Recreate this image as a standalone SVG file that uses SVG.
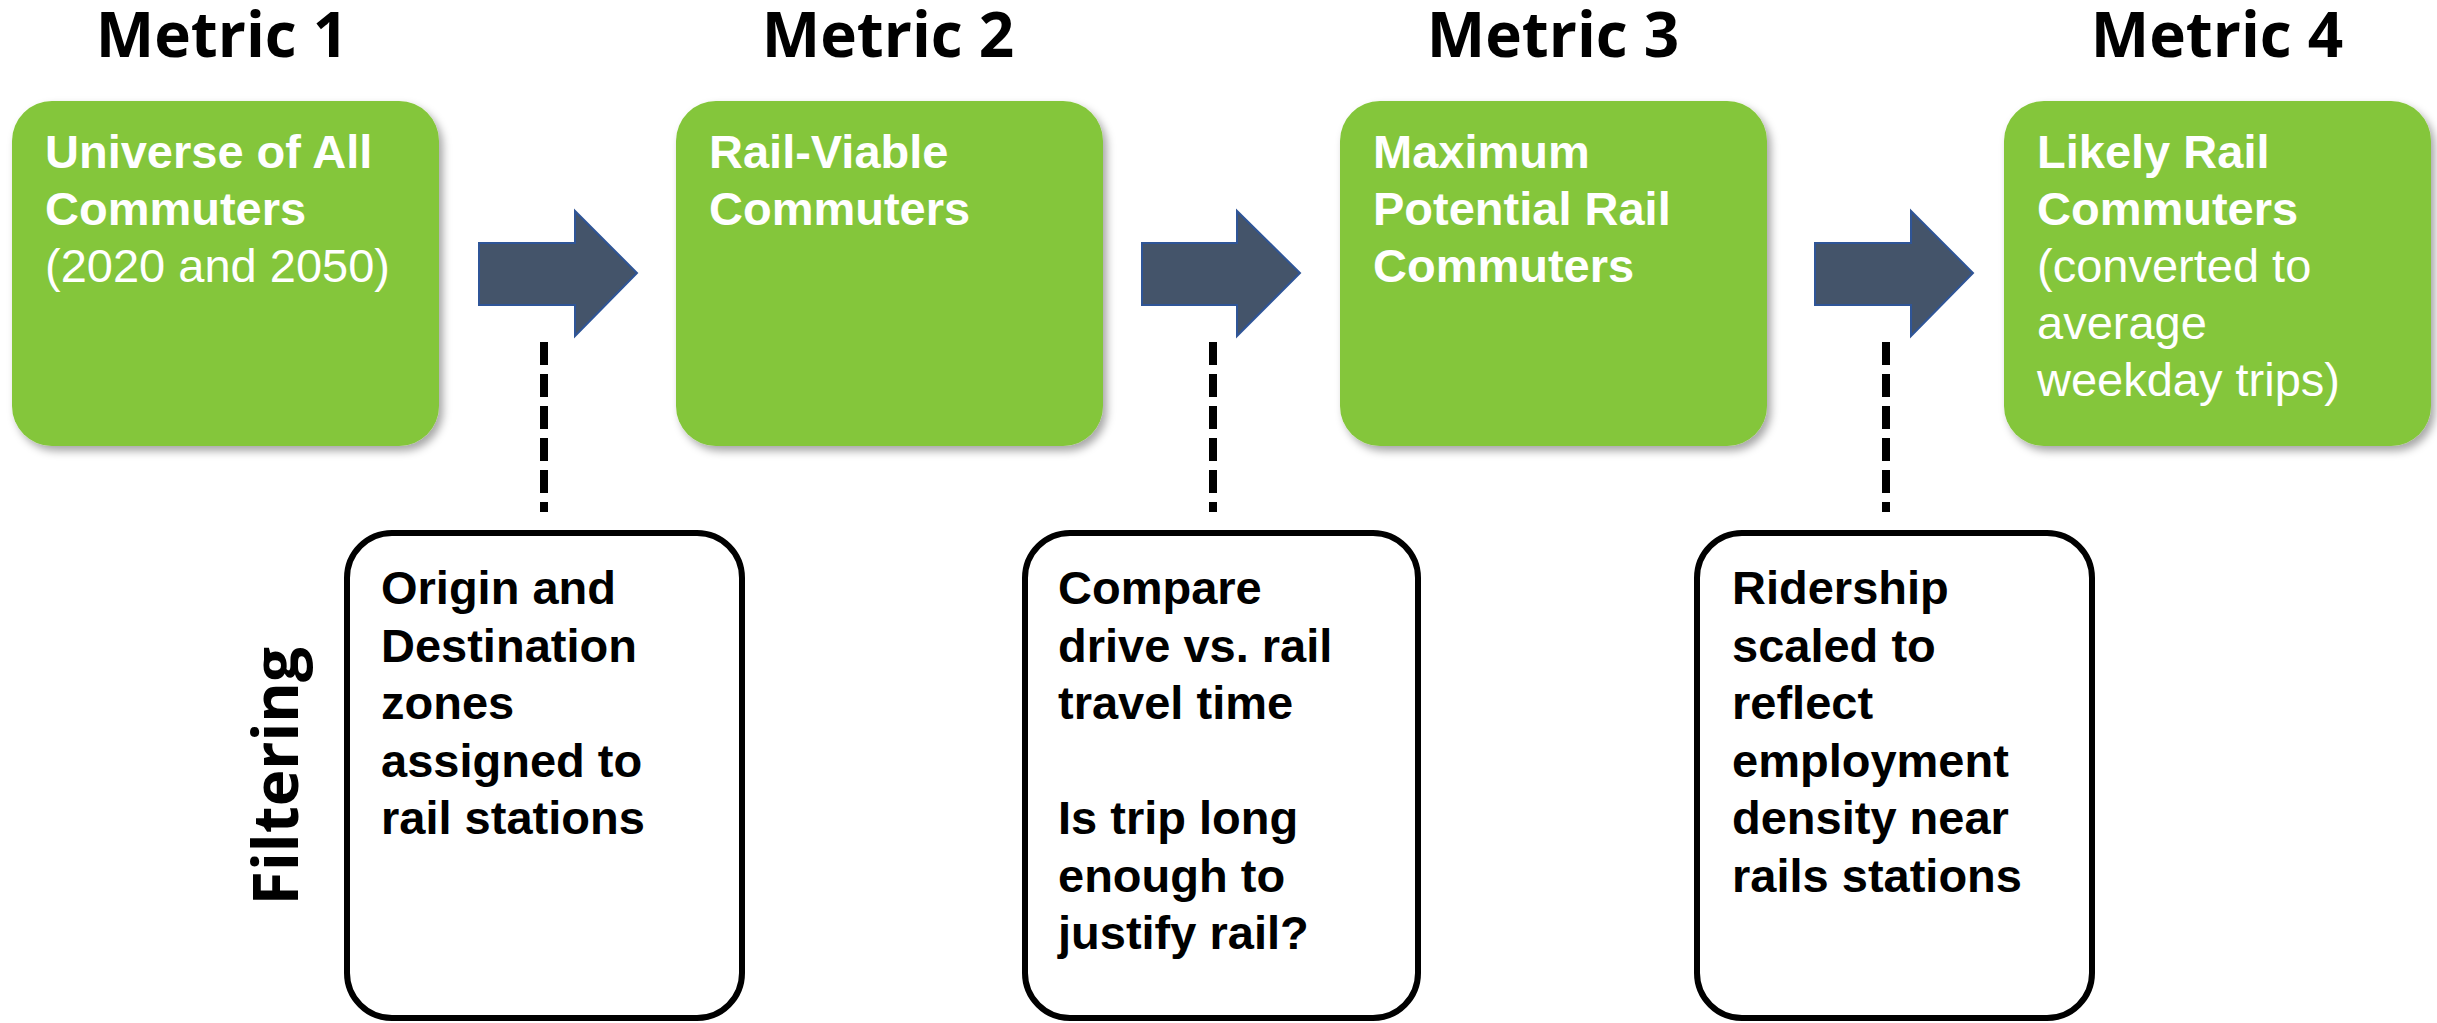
<svg xmlns="http://www.w3.org/2000/svg" width="2437" height="1023" viewBox="0 0 2437 1023">
<defs>
<filter id="sh" x="-10%" y="-10%" width="125%" height="125%">
<feDropShadow dx="4" dy="5" stdDeviation="4" flood-color="#000" flood-opacity="0.35"/>
</filter>
<style>
.hd{font-family:"Open Sans","DejaVu Sans",sans-serif;font-weight:700;font-size:62px;fill:#000;text-anchor:middle}
.gbox{fill:#84C63A;filter:url(#sh)}
.gt{font-family:"Liberation Sans",Arial,sans-serif;font-size:47px;fill:#fff}
.b{font-weight:700}
.wbox{fill:#fff;stroke:#000;stroke-width:6}
.wt{font-family:"Liberation Sans",Arial,sans-serif;font-size:47px;font-weight:700;fill:#000}
.arr{fill:#44546A;stroke:#2F5597;stroke-width:2}
.dash{stroke:#000;stroke-width:8;stroke-dasharray:23 9;fill:none}
</style>
</defs>
<g id="headings">
<text class="hd" x="222" y="57">Metric 1</text>
<text class="hd" x="888" y="57">Metric 2</text>
<text class="hd" x="1553" y="57">Metric 3</text>
<text class="hd" x="2217" y="57">Metric 4</text>
<text class="hd" transform="translate(298,776) rotate(-90)" x="0" y="0">Filtering</text>
</g>
<g id="metric1">
<rect class="gbox" x="12" y="101" width="427" height="345" rx="40"/>
<text class="gt" x="45"><tspan class="b" x="45" y="168">Universe of All</tspan><tspan class="b" x="45" y="225">Commuters</tspan><tspan x="45" y="282">(2020 and 2050)</tspan></text>
</g>
<g id="metric2">
<rect class="gbox" x="676" y="101" width="427" height="345" rx="40"/>
<text class="gt b" x="709"><tspan x="709" y="168">Rail-Viable</tspan><tspan x="709" y="225">Commuters</tspan></text>
</g>
<g id="metric3">
<rect class="gbox" x="1340" y="101" width="427" height="345" rx="40"/>
<text class="gt b" x="1373"><tspan x="1373" y="168">Maximum</tspan><tspan x="1373" y="225">Potential Rail</tspan><tspan x="1373" y="282">Commuters</tspan></text>
</g>
<g id="metric4">
<rect class="gbox" x="2004" y="101" width="427" height="345" rx="40"/>
<text class="gt" x="2037"><tspan class="b" x="2037" y="168">Likely Rail</tspan><tspan class="b" x="2037" y="225">Commuters</tspan><tspan x="2037" y="282">(converted to</tspan><tspan x="2037" y="339">average</tspan><tspan x="2037" y="396">weekday trips)</tspan></text>
</g>
<g id="filter1">
<rect class="wbox" x="347" y="533" width="395" height="485" rx="45"/>
<text class="wt"><tspan x="381" y="604">Origin and</tspan><tspan x="381" y="661.5">Destination</tspan><tspan x="381" y="719">zones</tspan><tspan x="381" y="776.5">assigned to</tspan><tspan x="381" y="834">rail stations</tspan></text>
</g>
<g id="filter2">
<rect class="wbox" x="1025" y="533" width="393" height="485" rx="45"/>
<text class="wt"><tspan x="1058" y="604">Compare</tspan><tspan x="1058" y="661.5">drive vs. rail</tspan><tspan x="1058" y="719">travel time</tspan><tspan x="1058" y="834">Is trip long</tspan><tspan x="1058" y="891.5">enough to</tspan><tspan x="1058" y="949">justify rail?</tspan></text>
</g>
<g id="filter3">
<rect class="wbox" x="1697" y="533" width="395" height="485" rx="45"/>
<text class="wt"><tspan x="1732" y="604">Ridership</tspan><tspan x="1732" y="661.5">scaled to</tspan><tspan x="1732" y="719">reflect</tspan><tspan x="1732" y="776.5">employment</tspan><tspan x="1732" y="834">density near</tspan><tspan x="1732" y="891.5">rails stations</tspan></text>
</g>
<g id="connectors">
<path class="arr" d="M479,243 H575 V211 L637,273 L575,336 V305 H479 Z"/>
<path class="arr" d="M1142,243 H1237 V211 L1300,273 L1237,336 V305 H1142 Z"/>
<path class="arr" d="M1815,243 H1911 V211 L1973,273 L1911,336 V305 H1815 Z"/>
<line class="dash" x1="544" y1="342" x2="544" y2="512"/>
<line class="dash" x1="1213" y1="342" x2="1213" y2="512"/>
<line class="dash" x1="1886" y1="342" x2="1886" y2="512"/>
</g>
</svg>
